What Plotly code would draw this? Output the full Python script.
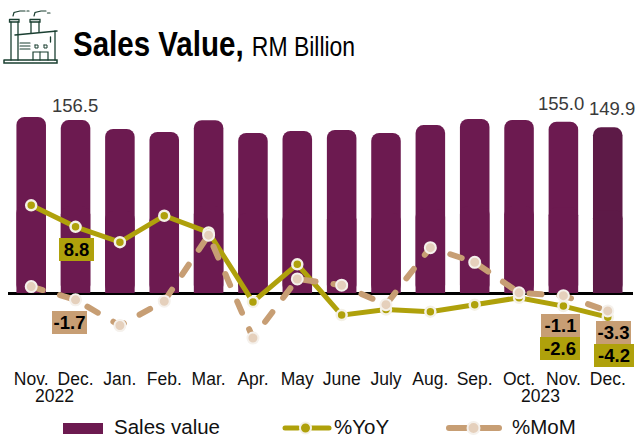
import plotly.graph_objects as go

months = ["Nov.", "Dec.", "Jan.", "Feb.", "Mar.", "Apr.", "May", "June", "July", "Aug.", "Sep.", "Oct.", "Nov.", "Dec."]
sales = [159.3, 156.5, 148.4, 145.7, 156.4, 144.8, 146.6, 147.5, 144.8, 152.0, 157.5, 156.6, 155.0, 149.9]
yoy = [11.9, 8.8, 6.6, 10.4, 8.0, -2.0, 3.4, -3.9, -3.1, -3.4, -2.4, -1.4, -2.6, -4.2]
mom = [0.2, -1.7, -5.4, -1.9, 7.6, -7.2, 1.3, 0.4, -2.4, 5.8, 3.7, -0.7, -1.1, -3.3]

W, H = 637, 436
L, R, T, B = 8, 633, 95, 366
X0, DX = 31.2, 44.35
BAR_ZERO, BAR_K = 293.0, 1.105
PCT_ZERO, PCT_K = 288.0, 6.95
PURPLE, PURPLE_DK = "#6C1A50", "#5D1A47"
OLIVE, TAN = "#AFA10B", "#C79E74"
TAN_L = "#E5D0BC"
TXT = "#111111"
FONT = "Liberation Sans"
idx = list(range(len(months)))
bar_colors = [PURPLE] * 13 + [PURPLE_DK]


def px(x):
    return (x - L) / (R - L)


def py(y):
    return (B - y) / (B - T)


fig = go.Figure()
fig.add_bar(x=idx, y=sales, width=0.666, marker=dict(color=bar_colors, line_width=0), name="Sales value", showlegend=False)
fig.add_bar(x=idx, y=[-v / 2 for v in sales], base=[v / 2 for v in sales], width=0.666,
            marker=dict(color=bar_colors, line_width=0), showlegend=False, hoverinfo="skip")
fig.add_scatter(x=idx, y=yoy, yaxis="y2", mode="lines+markers", name="%YoY", showlegend=False,
                line=dict(color=OLIVE, width=5),
                marker=dict(size=10, color=OLIVE, line=dict(color="#F4F1E6", width=2.5)))
fig.add_scatter(x=idx, y=mom, yaxis="y2", mode="lines+markers", name="%MoM", showlegend=False,
                line=dict(color=TAN, width=6, dash="12px,18px"),
                marker=dict(size=11, color=TAN_L, line=dict(color="#F5F1EC", width=2)))

ann = []


def text(x, y, s, size, color=TXT, anchor="center", h=None):
    a = dict(xref="paper", yref="paper", x=px(x), y=py(y), text=s, showarrow=False, xanchor=anchor,
             yanchor="middle", font=dict(size=size, color=color, family=FONT))
    if h:
        a["height"] = h
    ann.append(a)


def tag(i, vals, color, w, dx, dy):
    ann.append(dict(xref="x", yref="y2", x=i, y=vals[i], text=f"<b>{vals[i]}</b>", showarrow=False, xshift=dx, yshift=dy,
                    width=w, height=23, bgcolor=color, borderpad=0, borderwidth=0, align="center",
                    font=dict(size=18.5, color="#000000", family=FONT)))


tag(1, yoy, OLIVE, 35, 1, -23)
tag(1, mom, TAN, 35, -6, -22.5)
tag(12, mom, TAN, 39, -2.5, -30)
tag(12, yoy, OLIVE, 40, -3, -42.6)
tag(13, mom, TAN, 35, 5.5, -21.5)
tag(13, yoy, OLIVE, 40, 6, -38.5)

text(75, 105, f"{sales[1]}", 18.5, "#3A3A3A")
text(561, 103, f"{sales[12]:.1f}", 18.5, "#3A3A3A")
text(612, 109, f"{sales[13]}", 18.5, "#3A3A3A")
text(54, 396, "2022", 17.5)
text(540, 396, "2023", 17.5)
text(112, 426, "Sales value", 20.5, anchor="left", h=18)
text(332, 426, "%YoY", 20.5, anchor="left", h=18)
text(510, 426, "%MoM", 20.5, anchor="left", h=18)

shapes = []


def rect(x0, y0, x1, y1, fill):
    shapes.append(dict(type="rect", xref="paper", yref="paper", x0=px(x0), x1=px(x1), y0=py(y0), y1=py(y1),
                       fillcolor=fill, line_width=0))


def seg(pts, color, width, dash=None):
    d = "M" + " L".join(f"{px(a):.5f},{py(b):.5f}" for a, b in pts)
    shapes.append(dict(type="path", xref="paper", yref="paper", path=d, line=dict(color=color, width=width, dash=dash)))


def dot(x, y, r, fill, edge, w):
    shapes.append(dict(type="circle", xref="paper", yref="paper", x0=px(x - r), x1=px(x + r), y0=py(y - r), y1=py(y + r),
                       fillcolor=fill, line=dict(color=edge, width=w)))


rect(63, 423, 103, 434, PURPLE)
seg([(285, 428), (298, 428)], OLIVE, 5)
seg([(312, 428), (329, 428)], OLIVE, 5)
dot(305.5, 428, 5.5, OLIVE, "#F4F1E6", 2)
seg([(449, 428), (466, 428)], TAN, 6)
seg([(481, 428), (499, 428)], TAN, 6)
dot(473.5, 428, 6, TAN_L, "#F5F1EC", 2)

G = "#1A3F31"
# factory icon
seg([(4, 60), (57, 60), (57, 63), (4, 63), (4, 60)], G, 1.5)
seg([(11, 22), (11, 60)], G, 1.3)
seg([(18, 22), (18, 60)], G, 1.3)
seg([(9.5, 19.5), (19, 19.5), (19, 22), (9.5, 22), (9.5, 19.5)], G, 1.3)
seg([(31, 22), (31, 33)], G, 1.3)
seg([(39, 22), (39, 32)], G, 1.3)
seg([(30, 19.5), (40, 19.5), (40, 22), (30, 22), (30, 19.5)], G, 1.3)
seg([(15, 35), (57, 31)], G, 1.5)
seg([(55, 31), (55, 60)], G, 1.3)
seg([(20, 43), (30, 43)], G, 1.1)
seg([(20, 46), (30, 46)], G, 1.1)
seg([(20, 49), (30, 49)], G, 1.1)
seg([(35, 45), (38, 45), (38, 48), (35, 48), (35, 45)], G, 1)
seg([(44, 45), (47, 45), (47, 48), (44, 48), (44, 45)], G, 1)
seg([(33, 60), (33, 52), (48, 52), (48, 60)], G, 1.2)
seg([(40, 52), (40, 60)], G, 1.1)
seg([(50.5, 37), (50.5, 42)], G, 1.3)
seg([(13, 16), (14, 12.5), (20, 11), (25, 11)], G, 1.2)
seg([(27, 11), (29, 11)], G, 1.2)
seg([(34, 16), (35, 12.5), (41, 11), (46, 11)], G, 1.2)
seg([(47.5, 13), (50, 13)], G, 1.2)

fig.update_layout(
    width=W, height=H, autosize=False, margin=dict(l=L, r=W - R, t=T, b=H - B, pad=0),
    paper_bgcolor="white", plot_bgcolor="white", barmode="overlay", showlegend=False,
    font=dict(family=FONT, color=TXT),
    title=dict(text="<b>Sales Value,</b> <span style='font-size:28px'>RM Billion</span>",
               xref="container", yref="container", x=73 / W, xanchor="left", y=1 - 43 / H, yanchor="middle",
               font=dict(family=FONT, size=36, color="#000000")),
    xaxis=dict(range=[(L - X0) / DX, (R - X0) / DX], tickmode="array", tickvals=idx, ticktext=months, showgrid=False,
               zeroline=False, showline=False, ticks="", tickfont=dict(size=17.5, color=TXT, family=FONT), tickangle=0),
    yaxis=dict(range=[(BAR_ZERO - B) / BAR_K, (BAR_ZERO - T) / BAR_K], visible=True, showticklabels=False, showgrid=False,
               zeroline=True, zerolinecolor="#000000", zerolinewidth=3, ticks=""),
    yaxis2=dict(range=[(PCT_ZERO - B) / PCT_K, (PCT_ZERO - T) / PCT_K], overlaying="y", visible=False),
    barcornerradius=8, annotations=ann, shapes=shapes,
)
post = """
document.body.style.margin='0';document.documentElement.style.overflow='hidden';
var t=document.querySelector('.gtitle');
if(t){t.setAttribute('transform','translate(73,0) scale(0.82,1) translate(-73,0)');}
document.querySelectorAll('.scatterlayer .js-line, .shapelayer path').forEach(function(p){p.style.strokeLinecap='round';});
"""
fig.write_html("out.html", post_script=post, config={"displayModeBar": False})
